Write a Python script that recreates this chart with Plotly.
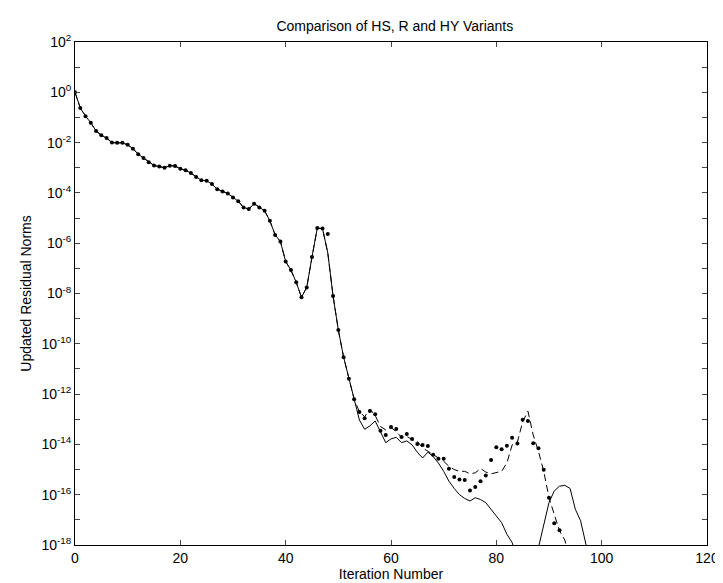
import plotly.graph_objects as go

# log10 of the updated residual norm
# iterations 0..47 are the same for all three variants
head = [0.0, -0.62, -0.95, -1.21, -1.54, -1.71, -1.82, -2.0, -2.01, -2.01,
        -2.09, -2.24, -2.46, -2.61, -2.78, -2.91, -2.95, -3.0, -2.92, -2.93,
        -3.04, -3.1, -3.21, -3.37, -3.5, -3.52, -3.65, -3.85, -3.94, -4.02,
        -4.18, -4.33, -4.58, -4.64, -4.43, -4.58, -4.71, -5.11, -5.67, -5.93,
        -6.73, -7.07, -7.55, -8.15, -7.76, -6.55, -5.4, -5.42]

# from iteration 48 on
hs_tail = [-6.39, -8.1, -9.45, -10.53, -11.39, -12.2,
           -13.03, -13.4, -13.26, -13.07, -13.49, -13.93, -13.78, -13.72, -13.93, -13.86,
           -14.02, -14.31, -14.54, -14.31, -14.48, -14.74, -15.07, -15.46, -15.75, -16.0,
           -16.15, -16.25, -16.12, -16.19, -16.32, -16.58, -16.85, -17.11, -17.57, -17.9,
           -18.6, -19.0, -19.2, -19.0, -18.1, -17.23, -16.31, -15.85, -15.66, -15.63,
           -15.75, -16.58, -17.04, -17.96, -18.8]

r_tail = [-5.63, -8.1, -9.45, -10.53, -11.39, -12.2,
          -12.71, -12.96, -12.67, -12.8, -13.46, -13.63, -13.31, -13.39, -13.71, -13.59,
          -13.79, -13.98, -14.02, -14.06, -14.41, -14.57, -14.57, -14.97, -15.3, -15.4,
          -15.42, -15.83, -15.69, -15.47, -15.24, -14.62, -14.11, -14.19, -14.05, -13.74,
          -13.96, -13.02, -13.07, -13.95, -14.15, -15.01, -16.12, -17.14, -17.41]

hy_tail = [-6.39, -8.1, -9.45, -10.53, -11.39, -12.2,
           -12.7, -12.9, -12.6, -12.85, -13.29, -13.42, -13.33, -13.49, -13.72, -13.68,
           -13.81, -13.88, -14.14, -14.27, -14.4, -14.55, -14.67, -14.87, -15.0, -15.07,
           -15.07, -15.17, -15.13, -14.96, -15.1, -15.17, -15.13, -15.07, -14.74, -14.02,
           -13.91, -13.1, -12.68, -13.63, -14.28, -15.07, -16.12, -16.78, -17.44, -17.8,
           -18.6]

hs = head + hs_tail
r = head + r_tail
hy = head + hy_tail

x_ticks = [0, 20, 40, 60, 80, 100, 120]
y_exps = list(range(-18, 3))

font = "Liberation Sans, Arial, Helvetica, sans-serif"

fig = go.Figure()

fig.add_trace(go.Scatter(x=list(range(len(hs))), y=[10 ** v for v in hs],
                         mode='lines', name='HS',
                         line=dict(color='black', width=1)))
fig.add_trace(go.Scatter(x=list(range(len(hy))), y=[10 ** v for v in hy],
                         mode='lines', name='HY',
                         line=dict(color='black', width=1, dash='7px,4px')))
fig.add_trace(go.Scatter(x=list(range(len(r))), y=[10 ** v for v in r],
                         mode='markers', name='R',
                         marker=dict(color='black', size=4)))

ytext = [f"10<sup>{e}</sup>" if e % 2 == 0 else "" for e in y_exps]

fig.update_layout(
    width=723, height=583,
    paper_bgcolor='white', plot_bgcolor='white',
    margin=dict(l=67, r=15, t=34, b=42),
    showlegend=False,
    font=dict(family=font, size=14, color='black'),
    title=dict(text='Comparison of HS, R and HY Variants', x=0.535, xanchor='center',
               y=1 - 18 / 583, yanchor='middle', yref='container',
               font=dict(size=14)),
)
fig.update_xaxes(range=[0, 120], tickvals=x_ticks, ticks='inside', ticklen=5,
                 showline=True, linecolor='black', linewidth=1, mirror='ticks',
                 showgrid=False, zeroline=False, tickfont=dict(size=14),
                 title=dict(text='Iteration Number', font=dict(size=14), standoff=3))
fig.update_yaxes(type='log', range=[-18, 2], tickvals=[10.0 ** e for e in y_exps],
                 ticktext=ytext, ticks='inside', ticklen=5,
                 showline=True, linecolor='black', linewidth=1, mirror='ticks',
                 showgrid=False, zeroline=False, tickfont=dict(size=14),
                 title=dict(text='Updated Residual Norms', font=dict(size=14), standoff=6))

fig.write_html("out.html")
